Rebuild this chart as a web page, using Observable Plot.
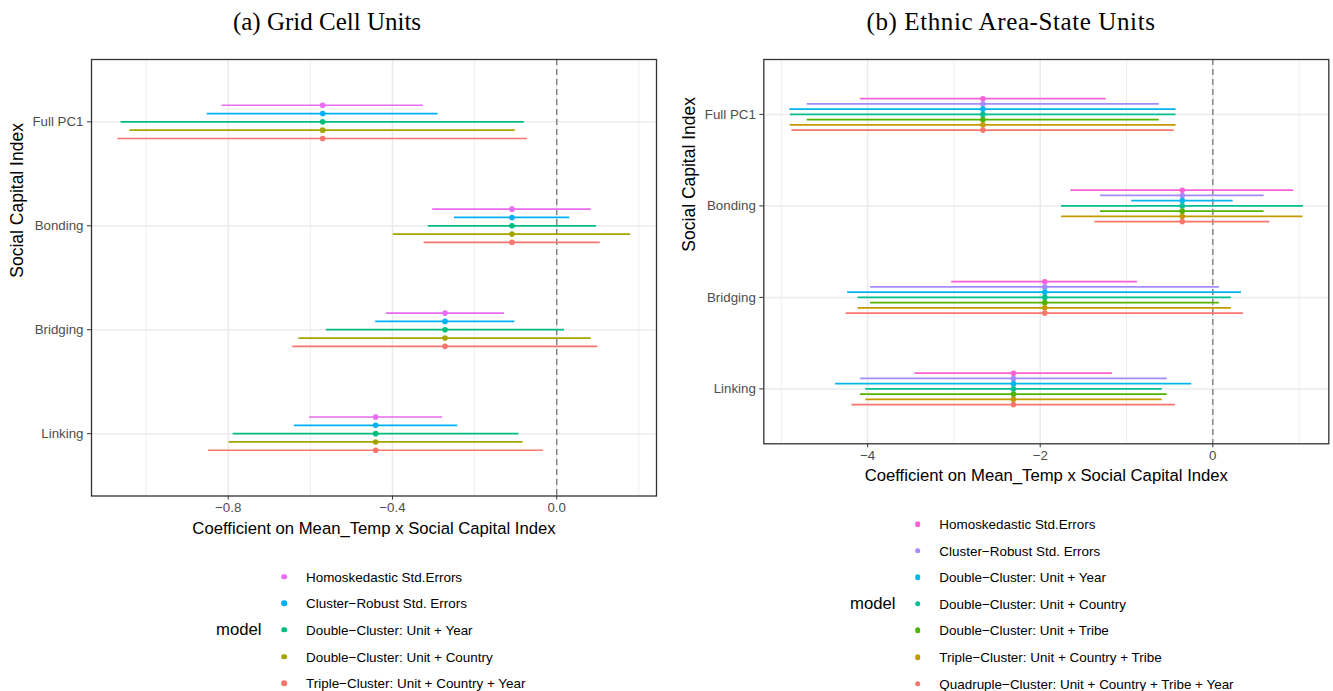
<!DOCTYPE html>
<html><head><meta charset="utf-8">
<script src="https://cdn.jsdelivr.net/npm/d3@7"></script>
<script src="https://cdn.jsdelivr.net/npm/@observablehq/plot@0.6"></script>
<style>
html,body{margin:0;padding:0;background:#fff;}
body{width:1333px;height:691px;position:relative;overflow:hidden;font-family:"Liberation Sans",Arial,sans-serif;}
.abs{position:absolute;}
.title{font-family:"Liberation Serif","DejaVu Serif",serif;font-size:25px;color:#000;white-space:nowrap;transform:translate(-50%,-50%);}
.leg-title{font-size:16.7px;color:#000;transform:translateY(-50%);white-space:nowrap;}
.leg-dot{width:5.6px;height:5.6px;border-radius:50%;transform:translate(-50%,-50%);}
.leg-text{font-size:13.45px;color:#000;transform:translateY(-50%);white-space:nowrap;}
</style></head><body>
<script>
// ---------- data ----------
const categories = ["Full PC1", "Bonding", "Bridging", "Linking"];

// Panel (a) Grid Cell Units
const modelsA = ["Homoskedastic Std.Errors", "Cluster\u2212Robust Std. Errors", "Double\u2212Cluster: Unit + Year", "Double\u2212Cluster: Unit + Country", "Triple\u2212Cluster: Unit + Country + Year"];
const colorsA = ["#E76BF3", "#00B0F6", "#00BF7D", "#A3A500", "#F8766D"];
const estA = [-0.570, -0.109, -0.272, -0.441];
const lowA = [
  [-0.815, -0.302, -0.415, -0.602],
  [-0.851, -0.249, -0.441, -0.639],
  [-1.061, -0.313, -0.561, -0.788],
  [-1.039, -0.398, -0.628, -0.798],
  [-1.069, -0.323, -0.643, -0.848]
];
const highA = [
  [-0.325, 0.084, -0.127, -0.278],
  [-0.289, 0.032, -0.102, -0.241],
  [-0.079, 0.097, 0.019, -0.092],
  [-0.101, 0.180, 0.084, -0.082],
  [-0.071, 0.106, 0.100, -0.032]
];
const majorTicksA = [-0.8, -0.4, 0.0];
const minorTicksA = [-1.0, -0.6, -0.2, 0.2];
const tickLabelsA = ["\u22120.8", "\u22120.4", "0.0"];

// Panel (b) Ethnic Area-State Units
const modelsB = ["Homoskedastic Std.Errors", "Cluster\u2212Robust Std. Errors", "Double\u2212Cluster: Unit + Year", "Double\u2212Cluster: Unit + Country", "Double\u2212Cluster: Unit + Tribe", "Triple\u2212Cluster: Unit + Country + Tribe", "Quadruple\u2212Cluster: Unit + Country + Tribe + Year"];
const colorsB = ["#FB61D7", "#A58AFF", "#00B6EB", "#00C094", "#53B400", "#C49A00", "#F8766D"];
const estB = [-2.664, -0.354, -1.947, -2.310];
const lowB = [
  [-4.084, -1.644, -3.026, -3.452],
  [-4.700, -1.302, -3.966, -4.084],
  [-4.902, -0.940, -4.232, -4.371],
  [-4.894, -1.753, -4.110, -4.021],
  [-4.700, -1.302, -3.966, -4.084],
  [-4.898, -1.753, -4.110, -4.021],
  [-4.877, -1.366, -4.249, -4.181]
];
const highB = [
  [-1.235, 0.940, -0.872, -1.163],
  [-0.620, 0.594, 0.076, -0.527],
  [-0.426, 0.236, 0.333, -0.244],
  [-0.426, 1.050, 0.215, -0.586],
  [-0.620, 0.594, 0.076, -0.527],
  [-0.426, 1.045, 0.215, -0.586],
  [-0.447, 0.662, 0.354, -0.434]
];
const majorTicksB = [-4, -2, 0];
const minorTicksB = [-5, -3, -1, 1];
const tickLabelsB = ["\u22124", "\u22122", "0"];

const xTitle = "Coefficient on Mean_Temp x Social Capital Index";
const yTitle = "Social Capital Index";

// ---------- drawing ----------
function panel(cfg) {
  const n = cfg.models.length;
  const rows = [];
  categories.forEach((c, ci) => cfg.models.forEach((m, mi) => rows.push({
    cat: c, model: m,
    pos: ci + 1 + (mi - (n - 1) / 2) * 0.4 / n,
    est: cfg.est[ci], lo: cfg.lo[mi][ci], hi: cfg.hi[mi][ci]
  })));
  const catPos = categories.map((c, i) => i + 1);
  return Plot.plot({
    width: cfg.width, height: cfg.height,
    marginLeft: cfg.mL, marginRight: cfg.mR, marginTop: cfg.mT, marginBottom: cfg.mB,
    style: {fontFamily: "'Liberation Sans', Arial, sans-serif", fontSize: "13.3px", background: "white", overflow: "visible"},
    x: {domain: cfg.xDomain},
    y: {domain: [categories.length + 0.6, 0.4]},
    color: {type: "ordinal", domain: cfg.models, range: cfg.colors},
    marks: [
      Plot.gridX(cfg.minor, {stroke: "#EBEBEB", strokeOpacity: 1, strokeWidth: 0.8}),
      Plot.gridX(cfg.major, {stroke: "#EBEBEB", strokeOpacity: 1, strokeWidth: 1.5}),
      Plot.gridY(catPos, {stroke: "#EBEBEB", strokeOpacity: 1, strokeWidth: 1.5}),
      Plot.ruleX([0], {stroke: "#7F7F7F", strokeWidth: 1.4, strokeDasharray: "6,4"}),
      Plot.ruleY(rows, {y: "pos", x1: "lo", x2: "hi", stroke: "model", strokeWidth: 1.7}),
      Plot.dot(rows, {x: "est", y: "pos", fill: "model", r: 2.8}),
      Plot.frame({stroke: "#333333", strokeWidth: 1.3}),
      Plot.axisX(cfg.major, {tickSize: 4, tickPadding: 2.5, stroke: "#333333", fill: "#4D4D4D", fontSize: 13.3,
        tickFormat: (d) => cfg.tickLabels[cfg.major.indexOf(d)], label: null}),
      Plot.axisY(catPos, {tickSize: 4, tickPadding: 4, stroke: "#333333", fill: "#4D4D4D", fontSize: 13.3,
        tickFormat: (d) => categories[d - 1], label: null}),
      Plot.text([xTitle], {frameAnchor: "bottom", dy: cfg.xLabDy, text: (d) => d, fill: "black", fontSize: 16.7}),
      Plot.text([yTitle], {frameAnchor: "left", dx: cfg.yLabDx, rotate: -90, text: (d) => d, fill: "black", fontSize: 17.5})
    ]
  });
}

function place(el, left, top) {
  el.style.position = "absolute";
  el.style.left = left + "px";
  el.style.top = top + "px";
  document.body.appendChild(el);
}

const pa = panel({models: modelsA, colors: colorsA, est: estA, lo: lowA, hi: highA,
  xDomain: [-1.133, 0.243], major: majorTicksA, minor: minorTicksA, tickLabels: tickLabelsA,
  width: 670, height: 545, mL: 91, mR: 14, mT: 59, mB: 49.5, xLabDy: 37.5, yLabDx: -74});
place(pa, 0, 0);

const pb = panel({models: modelsB, colors: colorsB, est: estB, lo: lowB, hi: highB,
  xDomain: [-5.203, 1.344], major: majorTicksB, minor: minorTicksB, tickLabels: tickLabelsB,
  width: 663, height: 490, mL: 93.3, mR: 4.7, mT: 59, mB: 46.7, xLabDy: 37.5, yLabDx: -74});
place(pb, 670, 0);

function div(cls, text, left, top, extra) {
  const d = document.createElement("div");
  d.className = "abs " + cls;
  if (text != null) d.textContent = text;
  d.style.left = left + "px";
  d.style.top = top + "px";
  if (extra) Object.assign(d.style, extra);
  document.body.appendChild(d);
  return d;
}

// titles
div("title", "(a) Grid Cell Units", 327, 22);
div("title", "(b) Ethnic Area-State Units", 1011, 22, {fontSize: "25px", letterSpacing: "0.6px"});

// legends
function legend(models, colors, titleX, dotX, textX, y0) {
  const step = 26.6;
  const mid = y0 + step * (models.length - 1) / 2;
  div("leg-title", "model", titleX, mid);
  models.forEach((m, i) => {
    div("leg-dot", null, dotX, y0 + step * i, {background: colors[i]});
    div("leg-text", m, textX, y0 + step * i);
  });
}
legend(modelsA, colorsA, 216, 284, 306, 576.7);
legend(modelsB, colorsB, 850, 917.7, 939.3, 524);
</script>
</body></html>
